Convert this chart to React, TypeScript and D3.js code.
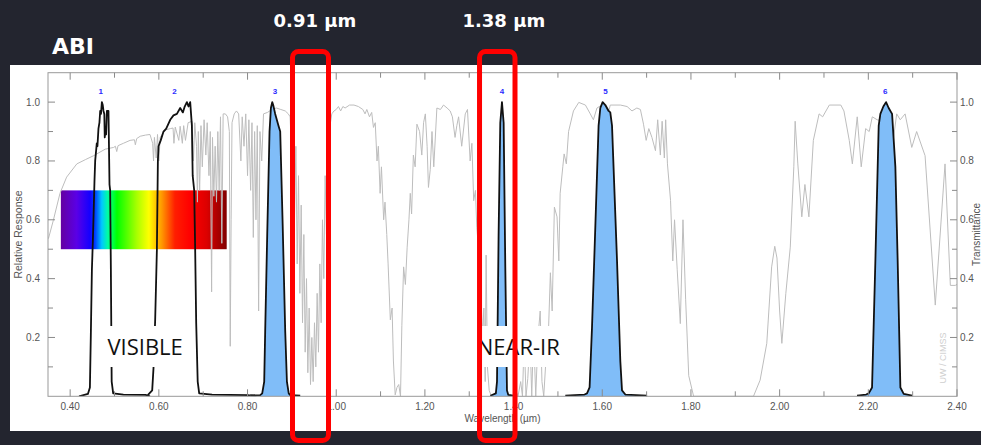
import React from "react";
import * as d3 from "d3";

// ---------- DATA ----------
// Atmospheric transmittance (gray curve)
const transWl = [
  0.351, 0.362, 0.377, 0.392, 0.415, 0.435, 0.453, 0.479, 0.498, 0.502, 0.505, 0.508, 0.52, 0.535, 0.545, 0.547, 0.55, 0.558, 0.57, 0.58,
  0.586, 0.588, 0.59, 0.594, 0.597, 0.6, 0.603, 0.614, 0.626, 0.632, 0.634, 0.637, 0.645, 0.648, 0.653, 0.656, 0.66, 0.666, 0.675,
  0.678, 0.681, 0.685, 0.687, 0.689, 0.692, 0.695, 0.698, 0.702, 0.706, 0.709, 0.713, 0.716, 0.719, 0.721, 0.724, 0.727, 0.73, 0.733,
  0.736, 0.739, 0.742, 0.745, 0.75, 0.755, 0.759, 0.761, 0.763, 0.765, 0.77, 0.775, 0.78, 0.785, 0.788, 0.792, 0.796, 0.8, 0.803,
  0.807, 0.81, 0.813, 0.816, 0.819, 0.822, 0.825, 0.828, 0.832, 0.836, 0.845, 0.855, 0.865, 0.875, 0.885, 0.892, 0.896, 0.9, 0.903,
  0.906, 0.909, 0.912, 0.915, 0.918, 0.921, 0.924, 0.927, 0.93, 0.933, 0.936, 0.939, 0.942, 0.945, 0.948, 0.951, 0.954, 0.957, 0.96,
  0.963, 0.966, 0.969, 0.972, 0.975, 0.978, 0.981, 0.984, 0.987, 0.99, 0.995, 1.0, 1.005, 1.01, 1.015, 1.02, 1.03, 1.04, 1.05, 1.06,
  1.065, 1.069, 1.075, 1.08, 1.084, 1.088, 1.092, 1.095, 1.099, 1.102, 1.107, 1.11, 1.114, 1.117, 1.122, 1.126, 1.129, 1.133, 1.137,
  1.141, 1.145, 1.148, 1.152, 1.156, 1.16, 1.164, 1.167, 1.17, 1.174, 1.178, 1.182, 1.188, 1.193, 1.197, 1.201, 1.205, 1.208, 1.212,
  1.216, 1.22, 1.227, 1.235, 1.242, 1.25, 1.257, 1.262, 1.268, 1.272, 1.276, 1.283, 1.291, 1.296, 1.302, 1.306, 1.31, 1.314, 1.317,
  1.321, 1.325, 1.33, 1.333, 1.336, 1.338, 1.341, 1.345, 1.35, 1.4, 1.405, 1.41, 1.416, 1.42, 1.424, 1.428, 1.432, 1.437, 1.441,
  1.445, 1.45, 1.455, 1.46, 1.464, 1.468, 1.472, 1.479, 1.483, 1.487, 1.492, 1.498, 1.502, 1.505, 1.511, 1.514, 1.519, 1.524, 1.535,
  1.547, 1.562, 1.573, 1.58, 1.588, 1.599, 1.604, 1.61, 1.618, 1.641, 1.656, 1.667, 1.678, 1.686, 1.693, 1.699, 1.705, 1.712, 1.72,
  1.725, 1.731, 1.735, 1.74, 1.743, 1.747, 1.754, 1.759, 1.763, 1.769, 1.776, 1.782, 1.788, 1.795, 1.806, 1.941, 1.956, 1.971, 1.982,
  1.989, 1.994, 2.0, 2.005, 2.014, 2.024, 2.032, 2.035, 2.041, 2.05, 2.057, 2.066, 2.076, 2.089, 2.097, 2.112, 2.138, 2.145, 2.157,
  2.164, 2.175, 2.184, 2.194, 2.202, 2.209, 2.22, 2.227, 2.234, 2.245, 2.257, 2.264, 2.272, 2.283, 2.298, 2.309, 2.328, 2.351, 2.373,
  2.385, 2.396, 2.4,
];
const transVal = [
  0.536, 0.598, 0.69, 0.745, 0.79, 0.805, 0.818, 0.84, 0.846, 0.85, 0.832, 0.852, 0.86, 0.87, 0.872, 0.855, 0.876, 0.884, 0.888, 0.89,
  0.86, 0.8, 0.88, 0.81, 0.89, 0.8, 0.88, 0.905, 0.91, 0.912, 0.86, 0.915, 0.87, 0.918, 0.86, 0.92, 0.87, 0.93, 0.935,
  0.8, 0.93, 0.85, 0.66, 0.9, 0.7, 0.92, 0.78, 0.94, 0.82, 0.93, 0.75, 0.9, 0.355, 0.88, 0.68, 0.85, 0.66, 0.9,
  0.7, 0.95, 0.52, 0.96, 0.96, 0.95, 0.9, 0.17, 0.6, 0.93, 0.96, 0.97, 0.96, 0.8, 0.95, 0.85, 0.96, 0.75, 0.94,
  0.7, 0.93, 0.54, 0.9, 0.6, 0.92, 0.29, 0.9, 0.8, 0.96, 0.965, 0.975, 0.98, 0.975, 0.97, 0.96, 0.95, 0.8, 0.92,
  0.6, 0.85, 0.45, 0.75, 0.35, 0.65, 0.25, 0.55, 0.15, 0.4, 0.08, 0.3, 0.04, 0.2, 0.05, 0.25, 0.1, 0.35, 0.15,
  0.45, 0.25, 0.6, 0.4, 0.75, 0.55, 0.88, 0.7, 0.93, 0.96, 0.97, 0.975, 0.985, 0.97, 0.985, 0.98, 0.99, 0.99, 0.985, 0.975,
  0.96, 0.975, 0.95, 0.965, 0.914, 0.93, 0.8, 0.85, 0.69, 0.78, 0.6, 0.66, 0.55, 0.45, 0.26, 0.3, 0.12, 0.005, 0.03,
  0.04, 0.0, 0.24, 0.44, 0.38, 0.507, 0.6, 0.69, 0.62, 0.82, 0.78, 0.925, 0.9, 0.82, 0.93, 0.96, 0.85, 0.71, 0.77,
  0.9, 0.78, 0.98, 0.975, 0.99, 0.98, 0.97, 0.95, 0.88, 0.92, 0.95, 0.85, 0.96, 0.975, 0.8, 0.86, 0.665, 0.7, 0.575,
  0.5, 0.4, 0.2, 0.3, 0.05, 0.48, 0.1, 0.02, 0.0, 0.0, 0.02, 0.0, 0.05, 0.0, 0.2, 0.0, 0.06, 0.2, 0.0,
  0.22, 0.0, 0.2, 0.29, 0.05, 0.0, 0.1, 0.236, 0.42, 0.29, 0.643, 0.61, 0.46, 0.69, 0.78, 0.824, 0.79, 0.9, 0.97,
  0.999, 0.99, 0.96, 0.94, 0.98, 0.99, 0.96, 0.94, 0.99, 0.99, 0.985, 0.97, 0.98, 0.975, 0.925, 0.87, 0.91, 0.88, 0.835,
  0.94, 0.82, 0.935, 0.81, 0.94, 0.79, 0.665, 0.46, 0.6, 0.43, 0.247, 0.6, 0.33, 0.07, 0.0, 0.0, 0.055, 0.18, 0.44,
  0.51, 0.47, 0.29, 0.18, 0.35, 0.507, 0.78, 0.935, 0.79, 0.61, 0.72, 0.61, 0.87, 0.96, 0.95, 0.99, 0.99, 0.97, 0.87,
  0.79, 0.95, 0.78, 0.91, 0.9, 0.95, 0.94, 0.937, 0.925, 0.886, 0.88, 0.96, 0.94, 0.96, 0.846, 0.9, 0.818, 0.31, 0.79,
  0.377, 0.377, 0.38,
];

// Spectral response functions of ABI bands 1-6
const band1Wl = [0.42, 0.43, 0.44, 0.4445, 0.4465, 0.449, 0.4512, 0.4548, 0.4564, 0.46, 0.4615, 0.4638, 0.466, 0.4677, 0.4695, 0.4715, 0.4735, 0.4751, 0.477, 0.478, 0.479, 0.481, 0.4828, 0.4864, 0.4887, 0.4902, 0.4918, 0.4936, 0.497, 0.52, 0.57, 0.58];
const band1Val = [0.0, 0.004, 0.008, 0.03, 0.2, 0.43, 0.53, 0.73, 0.8, 0.86, 0.85, 0.91, 0.93, 0.97, 0.96, 1.0, 0.99, 0.97, 0.96, 0.88, 0.9, 0.89, 0.97, 0.97, 0.72, 0.7, 0.43, 0.05, 0.01, 0.006, 0.005, 0.0];
const band2Wl = [0.575, 0.585, 0.5879, 0.5917, 0.5956, 0.5978, 0.5992, 0.6042, 0.6105, 0.6166, 0.6256, 0.633, 0.6407, 0.6481, 0.6542, 0.6583, 0.6632, 0.6669, 0.6707, 0.6745, 0.6763, 0.6797, 0.6819, 0.6842, 0.6876, 0.691, 0.72, 0.8, 0.82];
const band2Val = [0.004, 0.02, 0.095, 0.26, 0.5, 0.8, 0.85, 0.87, 0.9, 0.91, 0.94, 0.955, 0.96, 0.98, 0.965, 0.985, 1.0, 0.985, 1.0, 0.92, 0.75, 0.7, 0.5, 0.25, 0.05, 0.01, 0.006, 0.004, 0.0];
const band3Wl = [0.806, 0.8286, 0.8331, 0.8376, 0.8398, 0.8444, 0.8496, 0.8527, 0.8557, 0.8579, 0.8624, 0.8698, 0.8737, 0.8793, 0.885, 0.8888, 0.8929, 0.8963, 0.9188];
const band3Val = [0.003, 0.004, 0.01, 0.05, 0.22, 0.55, 0.9, 0.98, 1.0, 0.99, 0.96, 0.92, 0.9, 0.58, 0.22, 0.05, 0.01, 0.004, 0.002];
const band4Wl = [1.3475, 1.36, 1.3626, 1.3662, 1.37, 1.3738, 1.3776, 1.3813, 1.3851, 1.388, 1.3993];
const band4Val = [0.002, 0.01, 0.05, 0.55, 0.93, 1.0, 0.93, 0.44, 0.02, 0.005, 0.002];
const band5Wl = [1.5166, 1.56, 1.5656, 1.5714, 1.5769, 1.5843, 1.5917, 1.5956, 1.6008, 1.6069, 1.6143, 1.6181, 1.622, 1.6333, 1.6407, 1.6445, 1.652, 1.701];
const band5Val = [0.002, 0.006, 0.01, 0.03, 0.236, 0.575, 0.92, 0.98, 1.0, 0.99, 0.97, 0.965, 0.92, 0.46, 0.12, 0.02, 0.006, 0.002];
const band6Wl = [2.1746, 2.195, 2.2009, 2.2084, 2.2159, 2.2234, 2.2272, 2.2339, 2.24, 2.2459, 2.2536, 2.261, 2.2662, 2.2723, 2.2798, 2.2987];
const band6Val = [0.002, 0.006, 0.01, 0.03, 0.46, 0.92, 0.96, 0.985, 1.0, 0.98, 0.96, 0.78, 0.46, 0.03, 0.008, 0.002];

const bandLabels = ["1", "2", "3", "4", "5", "6"];
const bandLabelWl = [0.469, 0.635, 0.862, 1.374, 1.607, 2.238];
const bandFilled = [false, false, true, true, true, true];

const xTickLabels = ["0.40", "0.60", "0.80", "1.00", "1.20", "1.40", "1.60", "1.80", "2.00", "2.20", "2.40"];
const yTickLabels = ["0.2", "0.4", "0.6", "0.8", "1.0"];

// visible spectrum colour bar
const spectrumRangeWl = [0.379, 0.753];
const spectrumRangeVal = [0.5, 0.7];
const spectrumOffsets = [0, 0.095, 0.175, 0.205, 0.247, 0.284, 0.338, 0.459, 0.531, 0.61, 0.688, 0.778, 0.88, 1];
const spectrumColors = ["#6400a0", "#5a00e6", "#1400ff", "#003cff", "#00c8ff", "#00ffa0", "#00ff00", "#aaff00", "#ffff00", "#ff9600", "#ff1e00", "#ff0000", "#dc0000", "#800000"];

// highlighted channels
const highlightLabels = ["0.91 µm", "1.38 µm"];
const highlightCenterWl = [0.942, 1.3632];
const highlightWidthWl = [0.0812, 0.08];
const highlightLabelWl = [0.952, 1.378];

const regionLabels = ["VISIBLE", "NEAR-IR"];
const regionLabelWl = [0.569, 1.4106];

export default function App() {
  const W = 981, H = 445;
  const x = d3.scaleLinear().domain([0.35, 2.4]).range([48, 957]);
  const y = d3.scaleLinear().domain([0, 1.1]).range([396.3, 72.7]);
  const x0 = x.range()[0], x1 = x.range()[1];
  const yb = y.range()[0], yt = y.range()[1];

  const line = d3.line<[number, number]>().x(d => x(d[0])).y(d => y(d[1]));
  const area = d3.area<[number, number]>().x(d => x(d[0])).y0(y(0)).y1(d => y(d[1]));

  const trans: [number, number][] = transWl.map((w, i) => [w, transVal[i]]);
  const bandWls = [band1Wl, band2Wl, band3Wl, band4Wl, band5Wl, band6Wl];
  const bandVals = [band1Val, band2Val, band3Val, band4Val, band5Val, band6Val];
  const bands = bandWls.map((ws, b) => ws.map((w, i) => [w, bandVals[b][i]] as [number, number]));

  const xMinor = d3.range(4, 25).map(d => d / 10);
  const xMajor = xTickLabels.map(Number);
  const yMinor = d3.range(1, 11).map(d => d / 10);
  const yMajor = yTickLabels.map(Number);

  const tickColor = "#8a8a8a";
  const labelColor = "#555";
  const axisFont = "'Liberation Sans', Arial, sans-serif";

  return (
    <svg width={W} height={H} style={{ position: "absolute", left: 0, top: 0, display: "block" }}>
      <defs>
        <linearGradient id="spec" x1="0" x2="1" y1="0" y2="0">
          {spectrumOffsets.map((o, i) => (
            <stop key={i} offset={o} stopColor={spectrumColors[i]} />
          ))}
        </linearGradient>
        <clipPath id="plotClip">
          <rect x={x0} y={yt} width={x1 - x0} height={yb - yt} />
        </clipPath>
      </defs>
      <rect x={0} y={0} width={W} height={H} fill="#23252f" />
      <rect x={10} y={65} width={W - 10} height={366} fill="#ffffff" />

      {/* colour bar */}
      <rect
        x={x(spectrumRangeWl[0])}
        y={y(spectrumRangeVal[1])}
        width={x(spectrumRangeWl[1]) - x(spectrumRangeWl[0])}
        height={y(spectrumRangeVal[0]) - y(spectrumRangeVal[1])}
        fill="url(#spec)"
      />

      <g clipPath="url(#plotClip)">
        <path d={line(trans) || ""} fill="none" stroke="#bdbdbd" strokeWidth={1} />
        {bands.map((b, i) => (
          <g key={i}>
            {bandFilled[i] && <path d={area(b) || ""} fill="#80bdf8" stroke="none" />}
            <path d={line(b) || ""} fill="none" stroke="#111" strokeWidth={1.8} strokeLinejoin="round" />
          </g>
        ))}
      </g>

      {bandLabels.map((t, i) => (
        <text key={t} x={x(bandLabelWl[i])} y={y(1.028)} textAnchor="middle" fontSize={8} fontWeight="bold" fill="#2b2bff" fontFamily={axisFont}>
          {t}
        </text>
      ))}

      {/* frame */}
      <rect x={x0} y={yt} width={x1 - x0} height={yb - yt} fill="none" stroke="#999" strokeWidth={1} />
      {xMinor.map(v => {
        const major = xMajor.some(m => Math.abs(m - v) < 1e-6);
        const len = major ? 7 : 5;
        return (
          <g key={"xt" + v}>
            <line x1={x(v)} x2={x(v)} y1={yb} y2={yb - len} stroke={tickColor} />
            <line x1={x(v)} x2={x(v)} y1={yt} y2={yt + len} stroke={tickColor} />
          </g>
        );
      })}
      {yMinor.map(v => {
        const major = yMajor.some(m => Math.abs(m - v) < 1e-6);
        const len = major ? 7 : 5;
        return (
          <g key={"yt" + v}>
            <line x1={x0} x2={x0 + len} y1={y(v)} y2={y(v)} stroke={tickColor} />
            <line x1={x1} x2={x1 - len} y1={y(v)} y2={y(v)} stroke={tickColor} />
          </g>
        );
      })}
      {xTickLabels.map(t => (
        <text key={"xl" + t} x={x(+t)} y={yb + 14} textAnchor="middle" fontSize={10} fill={labelColor} fontFamily={axisFont}>
          {t}
        </text>
      ))}
      {yTickLabels.map(t => (
        <g key={"yl" + t}>
          <text x={x0 - 8} y={y(+t) + 3.5} textAnchor="end" fontSize={10} fill={labelColor} fontFamily={axisFont}>
            {t}
          </text>
          <text x={x1 + 3} y={y(+t) + 3.5} textAnchor="start" fontSize={10} fill={labelColor} fontFamily={axisFont}>
            {t}
          </text>
        </g>
      ))}
      <text x={(x0 + x1) / 2} y={yb + 26} textAnchor="middle" fontSize={10} fill={labelColor} fontFamily={axisFont}>
        Wavelength (µm)
      </text>
      <text transform={`translate(22,${(yt + yb) / 2}) rotate(-90)`} textAnchor="middle" fontSize={10.5} fill={labelColor} fontFamily={axisFont}>
        Relative Response
      </text>
      <text transform={`translate(979.5,${(yt + yb) / 2}) rotate(-90)`} textAnchor="middle" fontSize={10} fill={labelColor} fontFamily={axisFont}>
        Transmittance
      </text>
      <text transform={`translate(946,358) rotate(-90)`} textAnchor="middle" fontSize={9} fill="#cfcfcf" fontFamily={axisFont}>
        UW / CIMSS
      </text>

      {/* region labels */}
      {regionLabels.map((t, i) => (
        <g key={t}>
          <rect x={x(regionLabelWl[i]) - 44} y={326} width={88} height={41} fill="#fff" />
          <text x={x(regionLabelWl[i])} y={354.5} textAnchor="middle" fontSize={22} fill="#111" fontFamily="'Open Sans', sans-serif">
            {t}
          </text>
        </g>
      ))}

      {/* highlight boxes */}
      {highlightCenterWl.map((c, i) => {
        const cx = x(c);
        const w = x(c + highlightWidthWl[i] / 2) - x(c - highlightWidthWl[i] / 2);
        return (
          <rect key={"hb" + i} x={cx - w / 2} y={51.5} width={w} height={389} rx={6} ry={6} fill="none" stroke="#ff0000" strokeWidth={5} />
        );
      })}
      {highlightLabels.map((t, i) => (
        <text key={t} x={x(highlightLabelWl[i])} y={27} textAnchor="middle" fontSize={18} fontWeight="bold" fill="#ffffff" fontFamily="'DejaVu Sans', sans-serif">
          {t}
        </text>
      ))}
      <text x={52} y={54} fontSize={22} fontWeight="bold" fill="#ffffff" fontFamily="'DejaVu Sans', sans-serif">
        ABI
      </text>
    </svg>
  );
}
